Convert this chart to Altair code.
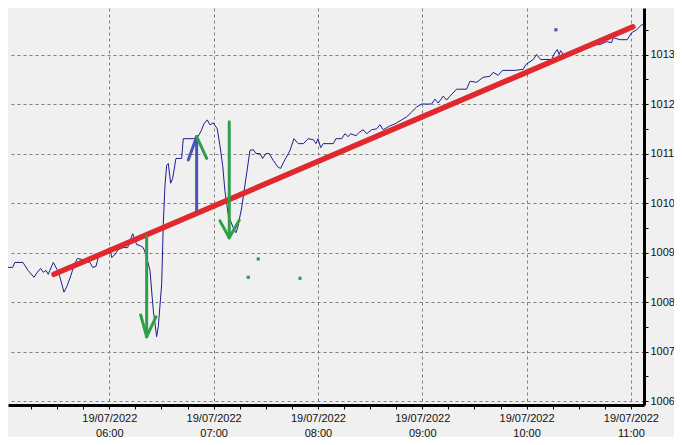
import altair as alt
import pandas as pd

DATE = "2022-07-19"

# Pressure series (hPa)
pressure_times = [
    "04:57:07", "04:58:51", "05:00:59", "05:04:26", "05:05:45", "05:10:21", "05:13:14", "05:16:41",
    "05:18:35", "05:20:32", "05:22:02", "05:23:35", "05:24:54", "05:27:02", "05:27:47", "05:29:54",
    "05:31:38", "05:33:56", "05:35:39", "05:37:57", "05:39:41", "05:41:35", "05:44:17", "05:46:35",
    "05:48:53", "05:50:26", "05:52:20", "05:53:39", "05:54:38", "05:57:30", "06:00:23", "06:01:22",
    "06:03:15", "06:05:09", "06:08:02", "06:10:34", "06:13:26", "06:15:44", "06:17:38", "06:19:32",
    "06:21:05", "06:23:23", "06:25:17", "06:27:14", "06:28:10", "06:30:07", "06:31:02", "06:32:01",
    "06:32:59", "06:33:55", "06:35:17", "06:36:26", "06:38:20", "06:41:37", "06:42:32", "06:48:17",
    "06:50:59", "06:52:53", "06:54:26", "06:56:20", "06:57:53", "06:59:47", "07:02:05", "07:03:38",
    "07:05:12", "07:06:31", "07:08:25", "07:11:17", "07:12:50", "07:13:49", "07:16:07", "07:18:35",
    "07:20:53", "07:22:47", "07:24:20", "07:26:39", "07:28:12", "07:30:06", "07:31:59", "07:34:17",
    "07:37:10", "07:38:33", "07:40:27", "07:43:54", "07:46:12", "07:48:40", "07:51:33", "07:54:25",
    "07:57:18", "07:58:51", "08:00:00", "08:01:33", "08:03:03", "08:08:48", "08:10:21", "08:13:38",
    "08:15:32", "08:17:25", "08:18:48", "08:21:51", "08:24:09", "08:26:03", "08:28:01", "08:30:53",
    "08:33:46", "08:35:40", "08:37:33", "08:41:25", "08:44:17", "08:48:08", "08:51:01", "08:53:53",
    "08:56:46", "08:59:38", "09:05:23", "09:07:17", "09:09:11", "09:12:04", "09:14:01", "09:15:55",
    "09:19:46", "09:25:31", "09:27:25", "09:31:16", "09:35:04", "09:38:55", "09:40:49", "09:43:41",
    "09:46:13", "09:53:17", "09:58:04", "09:59:37", "10:03:49", "10:05:46", "10:08:04", "10:14:24",
    "10:16:17", "10:17:37", "10:18:46", "10:19:34", "10:21:04", "10:26:49", "10:28:46", "10:34:31",
    "10:42:10", "10:46:01", "10:48:54", "10:49:49", "10:53:40", "10:57:52", "11:00:24", "11:03:16",
    "11:06:09", "11:08:03",
]
pressure_values = [
    1008.80, 1008.80, 1008.70, 1008.70, 1008.80, 1008.80, 1008.64, 1008.50,
    1008.60, 1008.68, 1008.60, 1008.64, 1008.56, 1008.74, 1008.80, 1008.66,
    1008.50, 1008.20, 1008.32, 1008.54, 1008.74, 1008.88, 1008.86, 1008.82,
    1008.80, 1008.70, 1008.72, 1008.90, 1008.96, 1009.00, 1009.10, 1008.90,
    1008.96, 1009.06, 1009.10, 1009.10, 1009.38, 1009.16, 1009.14, 1009.10,
    1008.96, 1008.64, 1007.84, 1007.30, 1007.50, 1008.36, 1009.56, 1010.36,
    1010.76, 1010.80, 1010.40, 1010.50, 1010.90, 1010.90, 1011.30, 1011.30,
    1011.34, 1011.46, 1011.60, 1011.68, 1011.58, 1011.62, 1011.50, 1011.16,
    1010.76, 1010.24, 1009.76, 1009.50, 1009.40, 1009.50, 1009.90, 1010.50,
    1011.06, 1011.08, 1011.00, 1011.00, 1010.90, 1011.00, 1011.00, 1010.86,
    1010.72, 1010.70, 1010.84, 1011.06, 1011.30, 1011.20, 1011.20, 1011.30,
    1011.28, 1011.20, 1011.30, 1011.12, 1011.20, 1011.20, 1011.30, 1011.30,
    1011.40, 1011.34, 1011.40, 1011.36, 1011.44, 1011.48, 1011.40, 1011.48,
    1011.50, 1011.58, 1011.48, 1011.56, 1011.60, 1011.68, 1011.74, 1011.84,
    1011.94, 1012.00, 1012.00, 1012.10, 1012.02, 1012.16, 1012.08, 1012.16,
    1012.30, 1012.30, 1012.46, 1012.44, 1012.54, 1012.56, 1012.64, 1012.58,
    1012.68, 1012.68, 1012.70, 1012.80, 1012.90, 1013.00, 1012.90, 1012.90,
    1013.04, 1013.10, 1013.00, 1013.08, 1013.00, 1013.00, 1013.04, 1013.20,
    1013.20, 1013.26, 1013.24, 1013.34, 1013.30, 1013.30, 1013.44, 1013.50,
    1013.60, 1013.60,
]

# Trend line end points
trend_times = ["05:28:11", "11:01:09"]
trend_values = [1008.56, 1013.56]

# Arrow segments (shaft + two barbs each)
arrow_colors = ["#4a55b8", "#4a55b8", "#2f9e4a",
                "#2f9e4a", "#2f9e4a", "#2f9e4a",
                "#2f9e4a", "#2f9e4a", "#2f9e4a"]
arrow_t1 = ["06:50:14", "06:45:25", "06:56:00",
            "06:21:29", "06:18:02", "06:26:50",
            "07:08:59", "07:03:38", "07:14:44"]
arrow_p1 = [1009.86, 1010.87, 1010.90,
            1009.34, 1007.74, 1007.70,
            1011.64, 1009.64, 1009.65]
arrow_t2 = ["06:50:14", "06:50:14", "06:50:14",
            "06:21:29", "06:21:29", "06:21:29",
            "07:08:59", "07:08:59", "07:08:59"]
arrow_p2 = [1011.34, 1011.34, 1011.34,
            1007.30, 1007.30, 1007.30,
            1009.30, 1009.30, 1009.30]

# Isolated points
dot_times = ["07:25:40", "07:19:55", "07:49:39", "10:16:52"]
dot_values = [1008.87, 1008.50, 1008.48, 1013.50]
dot_colors = ["#2f9e4a", "#2f9e4a", "#2f9e4a", "#4a55b8"]


def ts(hms):
    return f"{DATE}T{hms}"


line_df = pd.DataFrame({"t": [ts(h) for h in pressure_times], "p": pressure_values})
trend_df = pd.DataFrame({"t": [ts(h) for h in trend_times], "p": trend_values})
arrow_df = pd.DataFrame({
    "t": [ts(h) for h in arrow_t1], "p": arrow_p1,
    "t2": [ts(h) for h in arrow_t2], "p2": arrow_p2, "c": arrow_colors,
})
dot_df = pd.DataFrame({"t": [ts(h) for h in dot_times], "p": dot_values, "c": dot_colors})

FONT = "Liberation Sans Narrow, Liberation Sans, Arial"

x_values = []
for hh in range(5, 12):
    for mm in (0, 15, 30, 45):
        if (hh, mm) >= (5, 15) and (hh, mm) <= (11, 0):
            x_values.append(alt.DateTime(year=2022, month=7, date=19, hours=hh, minutes=mm))

y_values = [1006 + 0.5 * i for i in range(16)]

x_axis = alt.Axis(
    title=None, values=x_values, grid=True,
    gridOpacity={"condition": {"test": "minutes(datum.value) === 0", "value": 1}, "value": 0},
    gridColor="#808080", gridDash=[3, 3], gridWidth=1,
    labelExpr="minutes(datum.value) === 0 ? [timeFormat(datum.value, '%d/%m/%Y'), timeFormat(datum.value, '%H:%M')] : ''",
    labelFont=FONT, labelFontSize=11, labelColor="#111111", labelLineHeight=15,
    labelOverlap=False, labelFlush=False, labelBound=False, labelPadding=3,
    domainColor="#000000", domainWidth=3, tickColor="#000000", tickSize=4, tickWidth=1,
)
y_axis = alt.Axis(
    title=None, orient="right", values=y_values, grid=True,
    gridOpacity={"condition": {"test": "datum.value % 1 === 0", "value": 1}, "value": 0},
    gridColor="#808080", gridDash=[3, 3], gridWidth=1,
    labelExpr="datum.value % 1 === 0 ? format(datum.value, 'd') : ''",
    labelFont=FONT, labelFontSize=11, labelColor="#111111",
    labelOverlap=False, labelFlush=False, labelBound=False, labelPadding=2,
    domainColor="#000000", domainWidth=3, tickColor="#000000", tickSize=4, tickWidth=1,
)

x_scale = alt.Scale(domain=[
    alt.DateTime(year=2022, month=7, date=19, hours=5, minutes=1, seconds=44),
    alt.DateTime(year=2022, month=7, date=19, hours=11, minutes=7, seconds=32),
])
y_scale = alt.Scale(domain=[1005.92, 1013.94], zero=False, nice=False)

X = alt.X("t:T", scale=x_scale, axis=x_axis)
Y = alt.Y("p:Q", scale=y_scale, axis=y_axis)

line = alt.Chart(line_df).mark_line(color="#1e1e8c", strokeWidth=1, clip=True, interpolate="linear").encode(x=X, y=Y)
trend = alt.Chart(trend_df).mark_line(color="#e0282f", strokeWidth=5.5, strokeCap="round", clip=True).encode(x=X, y=Y)
arrows = alt.Chart(arrow_df).mark_rule(strokeWidth=3, strokeCap="round", clip=True).encode(
    x=X, y=Y, x2="t2:T", y2="p2:Q", color=alt.Color("c:N", scale=None)
)
dots = alt.Chart(dot_df).mark_square(size=10, opacity=1, clip=True).encode(
    x=X, y=Y, color=alt.Color("c:N", scale=None)
)

chart = (
    alt.layer(line, trend, arrows, dots)
    .properties(width=636, height=397, background="#f0f0f0",
                padding={"left": 0, "top": 0, "right": 30, "bottom": 32},
                autosize=alt.AutoSizeParams(type="none"))
    .configure_view(stroke=None, fill="#f0f0f0")
)

chart.save("out.html", embed_options={"renderer": "svg", "actions": False})
